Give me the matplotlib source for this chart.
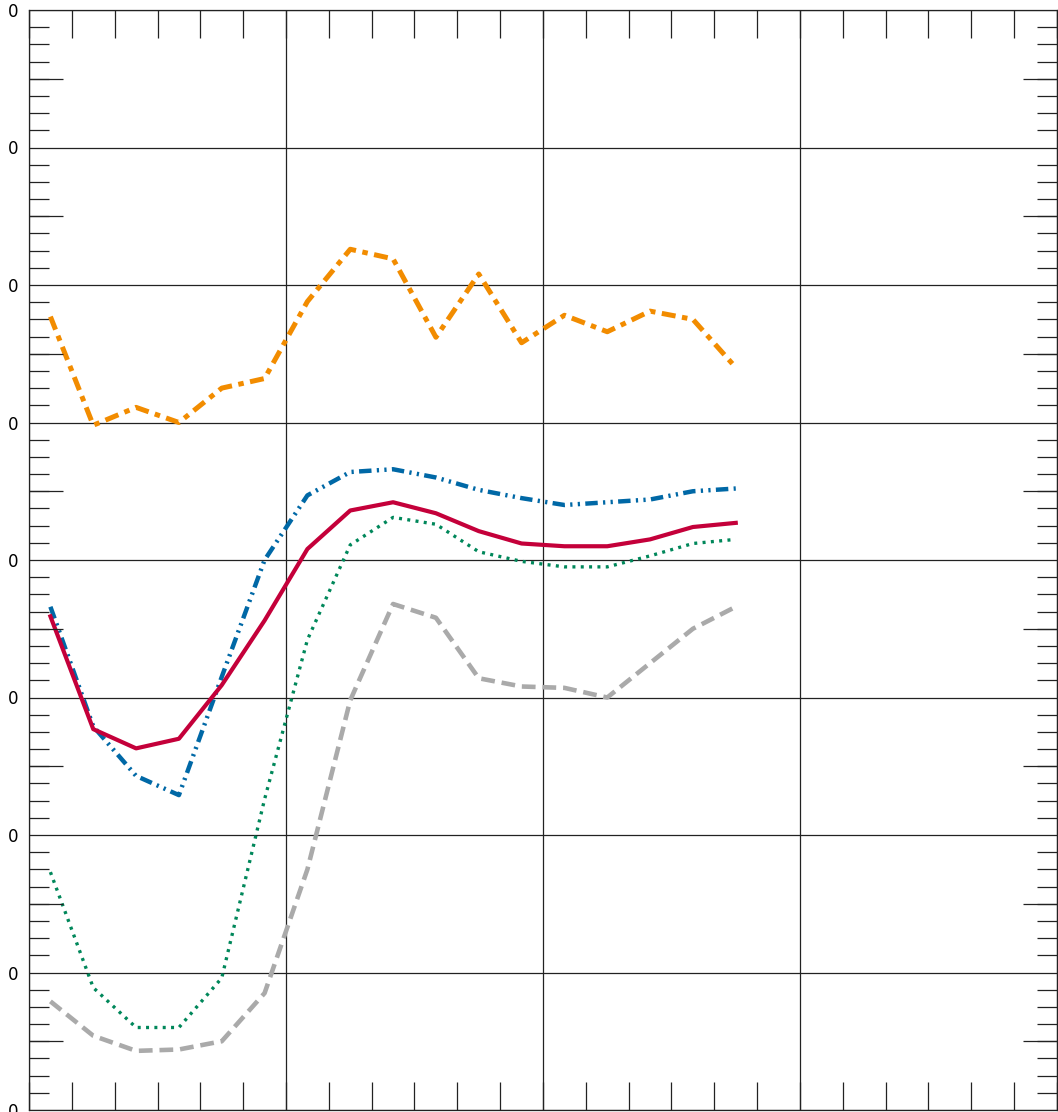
import numpy as np
import matplotlib
matplotlib.use('Agg')
from matplotlib import pyplot as plt
from matplotlib.ticker import MultipleLocator, FixedLocator, FuncFormatter

# x positions (minor-tick units), 17 samples
xs = np.arange(17) + 0.5

orange = [5.77, 4.98, 5.11, 5.00, 5.25, 5.32, 5.88, 6.26, 6.19, 5.62, 6.08, 5.58, 5.78, 5.66, 5.81, 5.75, 5.40]
blue = [3.66, 2.79, 2.43, 2.29, 3.15, 4.00, 4.47, 4.64, 4.66, 4.60, 4.51, 4.45, 4.40, 4.42, 4.44, 4.50, 4.52]
red = [3.59, 2.77, 2.63, 2.70, 3.09, 3.56, 4.08, 4.36, 4.42, 4.34, 4.21, 4.12, 4.10, 4.10, 4.15, 4.24, 4.27]
green = [1.73, 0.89, 0.60, 0.60, 0.96, 2.26, 3.42, 4.11, 4.31, 4.26, 4.06, 3.99, 3.95, 3.95, 4.03, 4.12, 4.15]
gray = [0.79, 0.54, 0.43, 0.44, 0.50, 0.85, 1.75, 2.98, 3.68, 3.58, 3.14, 3.08, 3.07, 3.00, 3.25, 3.50, 3.66]

fig = plt.figure(figsize=(10.58, 11.12), dpi=100)
ax = fig.add_axes([29/1058, 2/1112, 1028/1058, 1100/1112])

ax.plot(xs, gray, color='#aaaaaa', lw=3.3, dashes=(3.0, 1.5))
ax.plot(xs, green, color='#00875a', lw=2.4, dashes=(0.9, 1.6))
ax.plot(xs, blue, color='#0068a6', lw=3.2, dashes=(2.8, 1.2, 0.5, 1.2, 0.5, 1.2))
ax.plot(xs, red, color='#c4003a', lw=3.0)
ax.plot(xs, orange, color='#f28c00', lw=3.6, dashes=(2.8, 1.3, 1.1, 1.3))

ax.set_xlim(0, 24)
ax.set_ylim(0, 8)

# half-way y ticks, a bit longer (twin axis so they can have their own length)
ax2 = ax.twinx()
ax2.set_ylim(0, 8)
ax2.yaxis.set_major_locator(FixedLocator(np.arange(0.5, 8, 1)))
ax2.tick_params(axis='y', which='major', direction='in', left=True, right=True,
                labelleft=False, labelright=False, length=24.5, width=0.9, color='#222222')
ax2.yaxis.set_minor_locator(FixedLocator([]))
for s in ax2.spines.values():
    s.set_visible(False)

ax.xaxis.set_major_locator(MultipleLocator(6))
ax.xaxis.set_minor_locator(MultipleLocator(1))
ax.yaxis.set_major_locator(MultipleLocator(1))
ax.yaxis.set_minor_locator(MultipleLocator(0.125))
ax.yaxis.set_major_formatter(FuncFormatter(lambda v, p: '0'))
ax.xaxis.set_major_formatter(FuncFormatter(lambda v, p: ''))

ax.grid(True, which='major', color='#222222', lw=0.9)
ax.tick_params(axis='x', which='both', direction='in', top=True, bottom=True,
               length=20, width=0.9, color='#222222')
ax.tick_params(axis='y', which='major', direction='in', left=True, right=True,
               labelleft=True, labelright=False, length=0, labelsize=12, pad=8)
ax.tick_params(axis='y', which='minor', direction='in', left=True, right=True,
               length=14.5, width=0.9, color='#222222')
for s in ax.spines.values():
    s.set_color('#222222')
    s.set_linewidth(0.9)

fig.savefig('out.png', dpi=100)
